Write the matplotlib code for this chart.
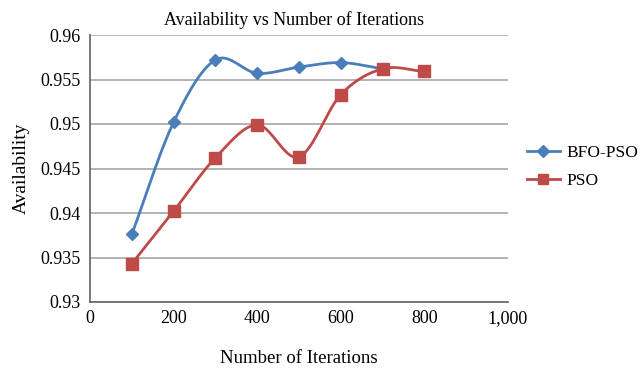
import numpy as np
import matplotlib
matplotlib.use("Agg")
import matplotlib.pyplot as plt
from matplotlib.lines import Line2D
from matplotlib.ticker import FuncFormatter

plt.rcParams['font.family'] = ['Liberation Serif', 'DejaVu Serif']

iterations = [100, 200, 300, 400, 500, 600, 700, 800]
bfo_pso = [0.9376, 0.9502, 0.9572, 0.9557, 0.9564, 0.9569, 0.9562]
pso = [0.9343, 0.9402, 0.9462, 0.9499, 0.9463, 0.9533, 0.9562, 0.9559]

x_ticks = [0, 200, 400, 600, 800, 1000]
y_ticks = [0.93, 0.935, 0.94, 0.945, 0.95, 0.955, 0.96]

blue = '#4a7ebb'
red = '#be4b48'


def smooth(xs, ys, n=30):
    """Catmull-Rom curve through the given points (spreadsheet-style smoothing)."""
    xs = np.asarray(xs, float)
    ys = np.asarray(ys, float)
    px = np.concatenate([[2 * xs[0] - xs[1]], xs, [2 * xs[-1] - xs[-2]]])
    py = np.concatenate([[2 * ys[0] - ys[1]], ys, [2 * ys[-1] - ys[-2]]])
    out_x, out_y = [], []
    t = np.linspace(0, 1, n)
    for i in range(1, len(px) - 2):
        for p, out in ((px, out_x), (py, out_y)):
            p0, p1, p2, p3 = p[i - 1], p[i], p[i + 1], p[i + 2]
            seg = 0.5 * ((2 * p1) + (-p0 + p2) * t
                         + (2 * p0 - 5 * p1 + 4 * p2 - p3) * t ** 2
                         + (-p0 + 3 * p1 - 3 * p2 + p3) * t ** 3)
            out.extend(seg)
    return np.array(out_x), np.array(out_y)


fig = plt.figure(figsize=(6.43, 3.68), dpi=100)
ax = fig.add_axes([90 / 643, 1 - 302 / 368, (508 - 90) / 643, (302 - 35) / 368])

for xs, ys, color, marker, ms in (
        (iterations[:len(bfo_pso)], bfo_pso, blue, 'D', 6),
        (iterations, pso, red, 's', 8)):
    sx, sy = smooth(xs, ys)
    ax.plot(sx, sy, color=color, lw=2, zorder=3, solid_capstyle='round')
    ax.plot(xs, ys, ls='none', marker=marker, ms=ms, color=color,
            mec=color, zorder=4)

ax.set_xlim(0, 1000)
ax.set_ylim(0.93, 0.96)
ax.set_xticks(x_ticks)
ax.set_yticks(y_ticks)
ax.xaxis.set_major_formatter(FuncFormatter(lambda v, _: f'{int(v):,}'))
ax.yaxis.set_major_formatter(FuncFormatter(lambda v, _: f'{v:g}'))
ax.tick_params(axis='both', length=0, labelsize=13, colors='black')
ax.tick_params(axis='x', pad=6)
ax.tick_params(axis='y', pad=6.5)

ax.grid(axis='y', color='#a6a6a6', lw=1.2, zorder=1)
for side in ('top', 'right'):
    ax.spines[side].set_visible(False)
for side in ('left', 'bottom'):
    ax.spines[side].set_color('#6e6e6e')
    ax.spines[side].set_linewidth(1.3)

ax.set_title('Availability vs Number of Iterations', fontsize=13, pad=7,
             x=0.488)
ax.set_ylabel('Availability', fontsize=14, labelpad=8)
ax.set_xlabel('Number of Iterations', fontsize=13.5, labelpad=16)

handles = [
    Line2D([], [], color=blue, lw=2, marker='D', ms=6),
    Line2D([], [], color=red, lw=2, marker='s', ms=7),
]
fig.legend(handles, ['BFO-PSO', 'PSO'], loc='center left',
           bbox_to_anchor=(511 / 643, 1 - 167 / 368), frameon=False,
           fontsize=12.5, handlelength=1.9, handletextpad=0.4,
           labelspacing=0.67)

fig.savefig('out.png', dpi=100)
